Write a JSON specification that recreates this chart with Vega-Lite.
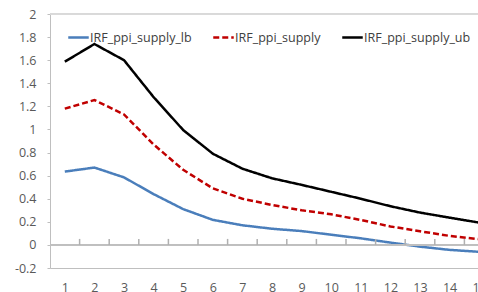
{
  "$schema": "https://vega.github.io/schema/vega-lite/v6.json",
  "autosize": {"type": "none"},
  "width": 428,
  "height": 254,
  "padding": {"left": 50, "top": 14, "right": 0, "bottom": 24},
  "background": "white",
  "config": {
    "view": {"stroke": null},
    "font": "Open Sans",
    "axis": {"grid": false, "labelFont": "Open Sans", "labelFontSize": 12.5, "labelColor": "#595959", "domainColor": "#bfbfbf", "tickColor": "#bfbfbf", "title": null, "labelOverlap": false},
    "axisY": {"labelOverlap": false, "labelFlush": false, "labelBound": false},
    "legend": {"orient": "none", "legendX": 17, "legendY": 12, "direction": "horizontal", "labelFont": "Open Sans", "labelFontSize": 12.5, "labelColor": "#404040", "symbolType": "stroke", "symbolSize": 420, "symbolStrokeWidth": 2.5, "labelOffset": 0, "columnPadding": 16, "title": null}
  },
  "datasets": {
    "irf": [
      {"t": 1, "series": "IRF_ppi_supply_lb", "v": 0.635},
      {"t": 2, "series": "IRF_ppi_supply_lb", "v": 0.67},
      {"t": 3, "series": "IRF_ppi_supply_lb", "v": 0.585},
      {"t": 4, "series": "IRF_ppi_supply_lb", "v": 0.44},
      {"t": 5, "series": "IRF_ppi_supply_lb", "v": 0.31},
      {"t": 6, "series": "IRF_ppi_supply_lb", "v": 0.217},
      {"t": 7, "series": "IRF_ppi_supply_lb", "v": 0.17},
      {"t": 8, "series": "IRF_ppi_supply_lb", "v": 0.14},
      {"t": 9, "series": "IRF_ppi_supply_lb", "v": 0.12},
      {"t": 10, "series": "IRF_ppi_supply_lb", "v": 0.088},
      {"t": 11, "series": "IRF_ppi_supply_lb", "v": 0.057},
      {"t": 12, "series": "IRF_ppi_supply_lb", "v": 0.02},
      {"t": 13, "series": "IRF_ppi_supply_lb", "v": -0.015},
      {"t": 14, "series": "IRF_ppi_supply_lb", "v": -0.043},
      {"t": 15, "series": "IRF_ppi_supply_lb", "v": -0.06},
      {"t": 1, "series": "IRF_ppi_supply", "v": 1.18},
      {"t": 2, "series": "IRF_ppi_supply", "v": 1.255},
      {"t": 3, "series": "IRF_ppi_supply", "v": 1.13},
      {"t": 4, "series": "IRF_ppi_supply", "v": 0.87},
      {"t": 5, "series": "IRF_ppi_supply", "v": 0.65},
      {"t": 6, "series": "IRF_ppi_supply", "v": 0.49},
      {"t": 7, "series": "IRF_ppi_supply", "v": 0.40},
      {"t": 8, "series": "IRF_ppi_supply", "v": 0.346},
      {"t": 9, "series": "IRF_ppi_supply", "v": 0.30},
      {"t": 10, "series": "IRF_ppi_supply", "v": 0.265},
      {"t": 11, "series": "IRF_ppi_supply", "v": 0.216},
      {"t": 12, "series": "IRF_ppi_supply", "v": 0.16},
      {"t": 13, "series": "IRF_ppi_supply", "v": 0.118},
      {"t": 14, "series": "IRF_ppi_supply", "v": 0.078},
      {"t": 15, "series": "IRF_ppi_supply", "v": 0.05},
      {"t": 1, "series": "IRF_ppi_supply_ub", "v": 1.587},
      {"t": 2, "series": "IRF_ppi_supply_ub", "v": 1.74},
      {"t": 3, "series": "IRF_ppi_supply_ub", "v": 1.60},
      {"t": 4, "series": "IRF_ppi_supply_ub", "v": 1.28},
      {"t": 5, "series": "IRF_ppi_supply_ub", "v": 0.995},
      {"t": 6, "series": "IRF_ppi_supply_ub", "v": 0.79},
      {"t": 7, "series": "IRF_ppi_supply_ub", "v": 0.66},
      {"t": 8, "series": "IRF_ppi_supply_ub", "v": 0.577},
      {"t": 9, "series": "IRF_ppi_supply_ub", "v": 0.52},
      {"t": 10, "series": "IRF_ppi_supply_ub", "v": 0.46},
      {"t": 11, "series": "IRF_ppi_supply_ub", "v": 0.40},
      {"t": 12, "series": "IRF_ppi_supply_ub", "v": 0.335},
      {"t": 13, "series": "IRF_ppi_supply_ub", "v": 0.28},
      {"t": 14, "series": "IRF_ppi_supply_ub", "v": 0.236},
      {"t": 15, "series": "IRF_ppi_supply_ub", "v": 0.193}
    ],
    "bounds": [
      {"b": 1.5}, {"b": 2.5}, {"b": 3.5}, {"b": 4.5}, {"b": 5.5}, {"b": 6.5}, {"b": 7.5},
      {"b": 8.5}, {"b": 9.5}, {"b": 10.5}, {"b": 11.5}, {"b": 12.5}, {"b": 13.5}, {"b": 14.5}
    ]
  },
  "layer": [
    {
      "data": {"name": "irf"},
      "mark": {"type": "line", "strokeWidth": 2.5},
      "encoding": {
        "x": {"field": "t", "type": "quantitative",
          "scale": {"domain": [0.5, 15.5], "range": [0, 444], "nice": false, "zero": false},
          "axis": {"orient": "bottom", "values": [1,2,3,4,5,6,7,8,9,10,11,12,13,14,15], "ticks": false, "tickSize": 0, "labelPadding": 13, "domain": true}},
        "y": {"field": "v", "type": "quantitative",
          "scale": {"domain": [-0.2, 2], "nice": false, "zero": false},
          "axis": {"values": [-0.2,0,0.2,0.4,0.6,0.8,1,1.2,1.4,1.6,1.8,2], "labelExpr": "datum.value + ''", "tickSize": 3, "labelPadding": 11, "labelFlush": false, "labelOverlap": false, "domain": true}},
        "color": {"field": "series", "type": "nominal",
          "scale": {"domain": ["IRF_ppi_supply_lb", "IRF_ppi_supply", "IRF_ppi_supply_ub"], "range": ["#4a7ebb", "#c00000", "#000000"]},
          "legend": {"title": null}},
        "strokeDash": {"field": "series", "type": "nominal",
          "scale": {"domain": ["IRF_ppi_supply_lb", "IRF_ppi_supply", "IRF_ppi_supply_ub"], "range": [[1,0],[6,3],[1,0]]},
          "legend": {"title": null}}
      }
    },
    {
      "data": {"name": "irf"},
      "mark": {"type": "rule", "color": "#bfbfbf", "strokeWidth": 1},
      "encoding": {
        "y": {"datum": 0, "type": "quantitative",
          "axis": {"values": [-0.2,0,0.2,0.4,0.6,0.8,1,1.2,1.4,1.6,1.8,2], "labelExpr": "datum.value + ''", "tickSize": 3, "labelPadding": 11, "labelFlush": false, "labelOverlap": false, "domain": true}},
        "x": {"datum": 0.5, "type": "quantitative", "axis": null},
        "x2": {"datum": 15.5}
      }
    },
    {
      "data": {"name": "bounds"},
      "mark": {"type": "tick", "orient": "vertical", "color": "#b0b0b0", "size": 6, "thickness": 1.5, "yOffset": -3, "opacity": 1},
      "encoding": {
        "y": {"datum": 0, "type": "quantitative",
          "axis": {"values": [-0.2,0,0.2,0.4,0.6,0.8,1,1.2,1.4,1.6,1.8,2], "labelExpr": "datum.value + ''", "tickSize": 3, "labelPadding": 11, "labelFlush": false, "labelOverlap": false, "domain": true}},
        "x": {"field": "b", "type": "quantitative", "axis": null}
      }
    },
    {
      "data": {"name": "irf"},
      "mark": {"type": "rule", "color": "#d9d9d9", "strokeWidth": 1},
      "encoding": {
        "y": {"datum": 2, "type": "quantitative",
          "axis": {"values": [-0.2,0,0.2,0.4,0.6,0.8,1,1.2,1.4,1.6,1.8,2], "labelExpr": "datum.value + ''", "tickSize": 3, "labelPadding": 11, "labelFlush": false, "labelOverlap": false, "domain": true}},
        "x": {"datum": 0.5, "type": "quantitative", "axis": null},
        "x2": {"datum": 15.5}
      }
    }
  ],
  "resolve": {"axis": {"x": "independent"}}
}
